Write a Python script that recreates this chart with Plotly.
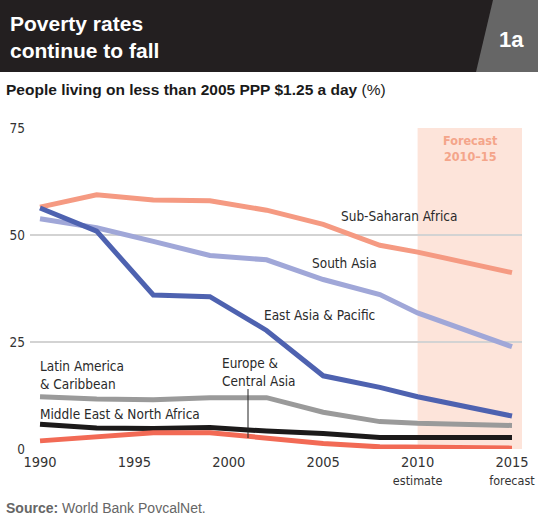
import plotly.graph_objects as go

years = [1990, 1993, 1996, 1999, 2002, 2005, 2008, 2010, 2015]

sub_saharan = [56.5, 59.4, 58.2, 58.0, 55.8, 52.5, 47.6, 46.0, 41.2]
south_asia = [53.8, 51.7, 48.5, 45.2, 44.2, 39.6, 36.1, 31.8, 23.9]
east_asia = [56.3, 50.9, 36.0, 35.6, 27.7, 17.1, 14.4, 12.2, 7.7]
latin_am = [12.2, 11.7, 11.5, 12.0, 12.0, 8.6, 6.4, 6.0, 5.5]
mid_east = [5.8, 4.9, 4.8, 5.0, 4.2, 3.6, 2.7, 2.7, 2.7]
europe_ca = [1.9, 2.8, 3.8, 3.8, 2.5, 1.3, 0.5, 0.4, 0.2]

x_ticks = [1990, 1995, 2000, 2005, 2010, 2015]
x_labels = ["1990", "1995", "2000", "2005",
            "2010<br><span style='font-size:12.5px'>estimate</span>",
            "2015<br><span style='font-size:12.5px'>forecast</span>"]
y_ticks = [0, 25, 50, 75]

NARROW = "Liberation Sans Narrow, DejaVu Sans Condensed, Arial Narrow, sans-serif"

# pixel -> paper helpers (plot area is x 30..522, y 128..449)
def px(x):
    return (x - 30) / 492

def py(y):
    return (449 - y) / 321

fig = go.Figure()

series = [
    ("Sub-Saharan Africa", sub_saharan, "#F59A82"),
    ("South Asia", south_asia, "#A0A7D8"),
    ("Latin America & Caribbean", latin_am, "#9A9A9A"),
    ("Middle East & North Africa", mid_east, "#1C1A1A"),
    ("Europe & Central Asia", europe_ca, "#F26A55"),
    ("East Asia & Pacific", east_asia, "#4E62B0"),
]
for name, vals, col in series:
    fig.add_trace(go.Scatter(x=years, y=vals, name=name, mode="lines",
                             line=dict(color=col, width=5),
                             cliponaxis=False, hoverinfo="skip"))

# forecast shading
fig.add_shape(type="rect", xref="x", yref="y", x0=2010, x1=2015.53, y0=0, y1=75,
              fillcolor="#FDE4DA", line_width=0, layer="below")

# header
fig.add_shape(type="rect", xref="paper", yref="paper", x0=px(0), x1=px(538),
              y0=py(72), y1=py(0), fillcolor="#231F20", line_width=0)
fig.add_shape(type="path", xref="paper", yref="paper",
              path=f"M {px(493)} {py(0)} L {px(538)} {py(0)} L {px(538)} {py(72)} L {px(476)} {py(72)} Z",
              fillcolor="#666666", line_width=0)

# leader line for Europe & Central Asia
fig.add_shape(type="line", xref="paper", yref="paper", x0=px(248), x1=px(248),
              y0=py(389), y1=py(438), line=dict(color="#222222", width=1))

ann = []
ann.append(dict(x=px(8), y=py(37), xref="paper", yref="paper", xanchor="left", yanchor="middle",
                text="<b>Poverty rates<br>continue to fall</b>", align="left",
                font=dict(family="Liberation Sans", size=21, color="white"), showarrow=False))
ann.append(dict(x=px(511), y=py(39), xref="paper", yref="paper", xanchor="center", yanchor="middle",
                text="<b>1a</b>", font=dict(family="Liberation Sans", size=22, color="white"),
                showarrow=False))
ann.append(dict(x=px(4), y=py(89), xref="paper", yref="paper", xanchor="left", yanchor="middle",
                text="<b>People living on less than 2005 PPP $1.25 a day</b> (%)",
                font=dict(family="Liberation Sans", size=15.5, color="#1a1a1a"), showarrow=False))
ann.append(dict(x=px(4), y=py(508), xref="paper", yref="paper", xanchor="left", yanchor="middle",
                text="<b>Source:</b> World Bank PovcalNet.",
                font=dict(family="Liberation Sans", size=14, color="#666666"), showarrow=False))
ann.append(dict(x=2012.78, y=py(131), xref="x", yref="paper", xanchor="center", yanchor="top",
                text="<b>Forecast<br>2010–15</b>",
                font=dict(family=NARROW, size=12.5, color="#F4A58A"), showarrow=False))

labels = [
    ("Sub-Saharan Africa", 399, 216, "center"),
    ("South Asia", 344, 263, "center"),
    ("East Asia & Pacific", 319, 315, "center"),
    ("Latin America<br>& Caribbean", 38, 375, "left"),
    ("Middle East & North Africa", 38, 414, "left"),
    ("Europe &<br>Central Asia", 220, 372, "left"),
]
for t, x, y, a in labels:
    ann.append(dict(x=px(x), y=py(y), xref="paper", yref="paper", xanchor=a, yanchor="middle",
                    text=t, align="left", font=dict(family=NARROW, size=13.5, color="#2a2a2a"),
                    showarrow=False))

fig.update_layout(
    width=538, height=520, autosize=False,
    margin=dict(l=30, r=16, t=128, b=71),
    plot_bgcolor="white", paper_bgcolor="white",
    showlegend=False, annotations=ann,
)
fig.update_xaxes(range=[1989.47, 2015.53], tickvals=x_ticks, ticktext=x_labels, automargin=False,
                 showgrid=False, zeroline=False, showline=False, ticks="",
                 tickfont=dict(family=NARROW, size=14.5, color="#333333"), ticklabelstandoff=2)
fig.update_yaxes(range=[0, 75], tickvals=y_ticks, showgrid=True, gridcolor="#D3D3D3", gridwidth=1.5,
                 zeroline=False, showline=False, ticks="", automargin=False,
                 tickfont=dict(family=NARROW, size=13.5, color="#333333"), ticklabelstandoff=4)

fig.write_html("out.html", config={"displayModeBar": False},
               post_script="document.body.style.margin='0';")
